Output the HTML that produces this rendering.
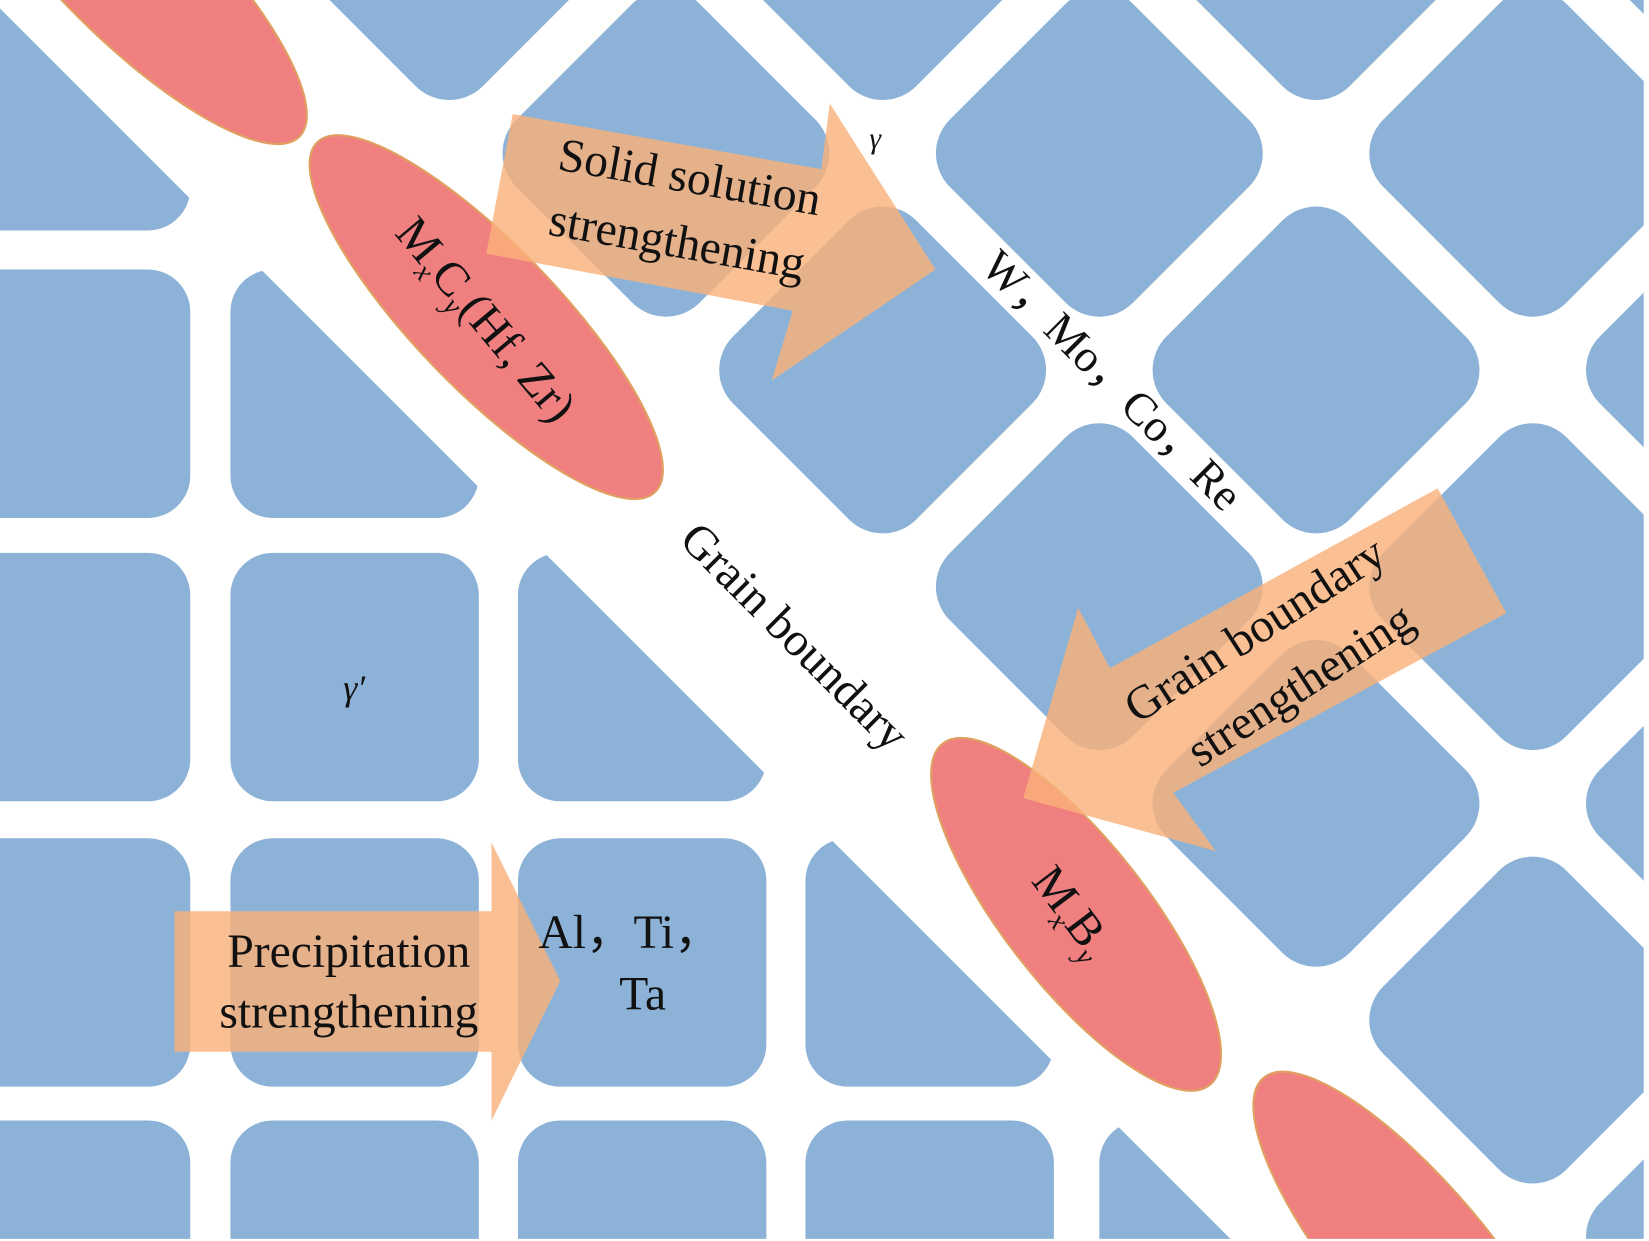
<!DOCTYPE html>
<html><head><meta charset="utf-8"><style>html,body{margin:0;padding:0;background:#fff;width:1649px;height:1241px;overflow:hidden}svg{display:block}</style></head>
<body>
<svg width="1649" height="1241" viewBox="0 0 1560 1174" preserveAspectRatio="none" xmlns="http://www.w3.org/2000/svg" font-family="'Liberation Serif', serif">
<defs>
<clipPath id="left"><polygon points="-100,-92 1266,1274 -100,1274"/></clipPath>
<clipPath id="view"><rect x="0" y="0" width="1555" height="1172"/></clipPath>
<g id="d"><rect x="-122.5" y="-122.5" width="245" height="245" rx="45" transform="rotate(45)"/></g>
</defs>
<rect width="1560" height="1174" fill="#fff"/>
<g clip-path="url(#view)">
<g fill="#8cb3d7" clip-path="url(#left)">
<rect x="-55" y="-17" width="235" height="235" rx="40"/><rect x="218" y="-17" width="235" height="235" rx="40"/>
<rect x="-55" y="255" width="235" height="235" rx="40"/><rect x="218" y="255" width="235" height="235" rx="40"/><rect x="490" y="255" width="235" height="235" rx="40"/>
<rect x="-55" y="523" width="235" height="235" rx="40"/><rect x="218" y="523" width="235" height="235" rx="40"/><rect x="490" y="523" width="235" height="235" rx="40"/><rect x="762" y="523" width="235" height="235" rx="40"/>
<rect x="-55" y="793" width="235" height="235" rx="40"/><rect x="218" y="793" width="235" height="235" rx="40"/><rect x="490" y="793" width="235" height="235" rx="40"/><rect x="762" y="793" width="235" height="235" rx="40"/><rect x="1040" y="793" width="235" height="235" rx="40"/>
<rect x="-55" y="1060" width="235" height="235" rx="40"/><rect x="218" y="1060" width="235" height="235" rx="40"/><rect x="490" y="1060" width="235" height="235" rx="40"/><rect x="762" y="1060" width="235" height="235" rx="40"/><rect x="1040" y="1060" width="235" height="235" rx="40"/><rect x="1315" y="1060" width="235" height="235" rx="40"/>
</g>
<g fill="#8cb3d7">
<use href="#d" x="425" y="-60"/><use href="#d" x="630" y="145"/><use href="#d" x="835" y="350"/><use href="#d" x="1040" y="555"/><use href="#d" x="1245" y="760"/><use href="#d" x="1450" y="965"/><use href="#d" x="1655" y="1170"/>
<use href="#d" x="835" y="-60"/><use href="#d" x="1040" y="145"/><use href="#d" x="1245" y="350"/><use href="#d" x="1450" y="555"/><use href="#d" x="1655" y="760"/>
<use href="#d" x="1245" y="-60"/><use href="#d" x="1450" y="145"/><use href="#d" x="1655" y="350"/>
<use href="#d" x="1655" y="-60"/>
</g>
<g fill="#f08080" stroke="#e0a060" stroke-width="2">
<ellipse cx="122" cy="-32" rx="228" ry="68" transform="rotate(45 122 -32)"/>
<ellipse cx="460" cy="300" rx="230" ry="68" transform="rotate(46 460 300)"/>
<ellipse cx="1018" cy="865" rx="205" ry="68" transform="rotate(52 1018 865)"/>
<ellipse cx="1340" cy="1192" rx="225" ry="70" transform="rotate(50 1340 1192)"/>
</g>
<g fill="#f9b17a" fill-opacity="0.82">
<polygon points="485,108 777,160 785,98 885,255 730,360 750,294 460,240"/>
<polygon points="968,755 1020,575 1050,632 1360,462 1425,580 1110,750 1150,805"/>
<polygon points="165,862 465,862 465,797 530,928 465,1060 465,995 165,995"/>
</g>
<g fill="#111" font-size="45" text-anchor="middle">
<text transform="translate(650,182) rotate(10)">Solid solution</text>
<text transform="translate(638,243) rotate(10)">strengthening</text>
<text transform="translate(460,302) rotate(50)" dy="15">M<tspan font-size="27" font-style="italic" dy="10">x</tspan><tspan dy="-10">C</tspan><tspan font-size="27" font-style="italic" dy="10">y</tspan><tspan dy="-10">(Hf, Zr)</tspan></text>
<text x="828" y="140" font-size="28" font-style="italic">γ</text>
<text transform="translate(1052,360) rotate(45)" dy="14" font-size="43">W，Mo，Co，Re</text>
<text transform="translate(752,602) rotate(45)" dy="15">Grain boundary</text>
<text transform="translate(1195,608) rotate(-33)">Grain boundary</text>
<text transform="translate(1238,660) rotate(-33)">strengthening</text>
<text x="335" y="662" font-size="34" font-style="italic">γ′</text>
<text x="330" y="915">Precipitation</text>
<text x="330" y="972">strengthening</text>
<text x="596" y="897">Al，Ti，</text>
<text x="608" y="955">Ta</text>
<text transform="translate(1015,862) rotate(53)" dy="15">M<tspan font-size="27" font-style="italic" dy="10">x</tspan><tspan dy="-10">B</tspan><tspan font-size="27" font-style="italic" dy="10">y</tspan></text>
</g>
</g>
</svg>
</body></html>
